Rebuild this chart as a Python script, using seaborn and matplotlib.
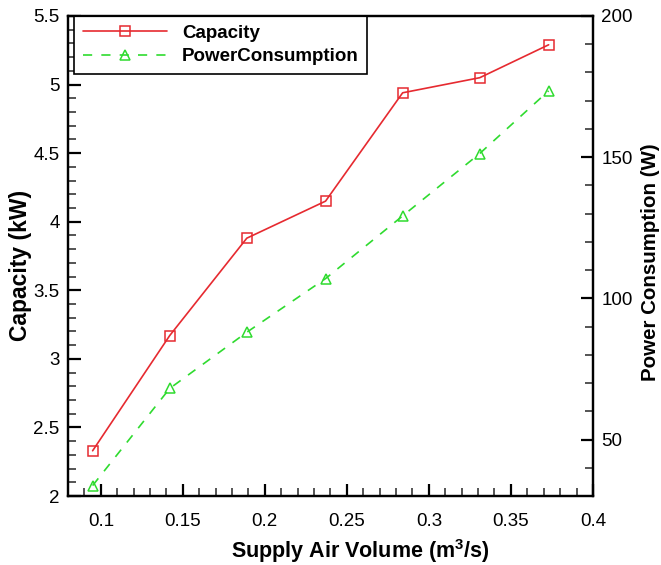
import matplotlib
matplotlib.use("Agg")
import matplotlib.pyplot as plt
from matplotlib.ticker import MultipleLocator
from matplotlib.lines import Line2D
import seaborn as sns
import pandas as pd

# Measured data
air_volume = [0.095, 0.142, 0.189, 0.237, 0.284, 0.331, 0.373]
capacity_kw = [2.33, 3.17, 3.88, 4.15, 4.94, 5.05, 5.29]
power_w = [33.7, 68.1, 88.0, 107.0, 129.2, 151.3, 173.5]

df = pd.DataFrame({"volume": air_volume, "capacity": capacity_kw, "power": power_w})

sns.set_style("ticks")
plt.rcParams["font.family"] = ["Liberation Sans", "DejaVu Sans"]
plt.rcParams["mathtext.fontset"] = "custom"
plt.rcParams["mathtext.rm"] = "Liberation Sans:bold"
plt.rcParams["mathtext.default"] = "rm"
plt.rcParams["text.color"] = "black"
plt.rcParams["axes.labelcolor"] = "black"

red = "#e62a30"
green = "#2fdb2f"

fig = plt.figure(figsize=(6.61, 5.65), dpi=100)
ax = fig.add_axes([0.1029, 0.1221, 0.7941, 0.8496])
ax2 = ax.twinx()

sq_kw = dict(marker="s", markersize=6.5, markerfacecolor="none",
             markeredgecolor=red, markeredgewidth=1.1)
tri_kw = dict(marker="^", markersize=7.5, markerfacecolor="none",
              markeredgecolor=green, markeredgewidth=1.1)
dash = (0, (5.5, 5.5))

sns.lineplot(data=df, x="volume", y="capacity", ax=ax, color=red, lw=1.2, **sq_kw)
sns.lineplot(data=df, x="volume", y="power", ax=ax2, color=green, lw=1.2,
             linestyle=dash, **tri_kw)

ax.set_xlim(0.08, 0.4)
ax.set_ylim(2, 5.5)
ax2.set_ylim(30, 200)

ax.xaxis.set_minor_locator(MultipleLocator(0.01))
ax.yaxis.set_minor_locator(MultipleLocator(0.1))
ax2.yaxis.set_minor_locator(MultipleLocator(10))

ax.set_xticks([0.1, 0.15, 0.2, 0.25, 0.3, 0.35, 0.4])
ax.set_xticklabels(["0.1", "0.15", "0.2", "0.25", "0.3", "0.35", "0.4"])
ax.set_yticks([2, 2.5, 3, 3.5, 4, 4.5, 5, 5.5])
ax.set_yticklabels(["2", "2.5", "3", "3.5", "4", "4.5", "5", "5.5"])
ax2.set_yticks([50, 100, 150, 200])
ax2.set_yticklabels(["50", "100", "150", "200"])

for a in (ax, ax2):
    for s in a.spines.values():
        s.set_linewidth(1.6)
        s.set_color("black")
    a.tick_params(which="major", direction="in", length=9, width=1.6,
                  labelsize=13.5, colors="black", pad=6)
    a.tick_params(which="minor", direction="in", length=5.5, width=1.1)

ax.tick_params(axis="x", which="both", top=False)
ax.tick_params(axis="x", which="major", pad=12)
ax.tick_params(axis="y", which="both", right=False)
ax2.tick_params(axis="y", which="both", left=False, right=True)

ax.set_xlabel("Supply Air Volume (m$^3$/s)", fontsize=15.5, fontweight="bold")
ax.set_ylabel("Capacity (kW)", fontsize=16.5, fontweight="bold")
ax2.set_ylabel("Power Consumption (W)", fontsize=14.8, fontweight="bold")
ax.xaxis.set_label_coords(0.556, -0.086)
ax.yaxis.set_label_coords(-0.068, 0.481)
ax2.yaxis.set_label_coords(1.091, 0.488)

handles = [
    Line2D([], [], color=red, lw=1.2, **sq_kw),
    Line2D([], [], color=green, lw=1.2, linestyle=dash, **tri_kw),
]
leg = ax.legend(handles, ["Capacity", "PowerConsumption"], loc="upper left",
                bbox_to_anchor=(0.012, 1.0), borderaxespad=0, frameon=True,
                fancybox=False, framealpha=1, edgecolor="black",
                prop={"weight": "bold", "size": 13.5}, handlelength=4.5,
                borderpad=0.45, labelspacing=0.35, handletextpad=0.8)
leg.get_frame().set_linewidth(1.2)
if ax2.get_legend() is not None:
    ax2.get_legend().remove()

fig.savefig("out.png", dpi=100)
